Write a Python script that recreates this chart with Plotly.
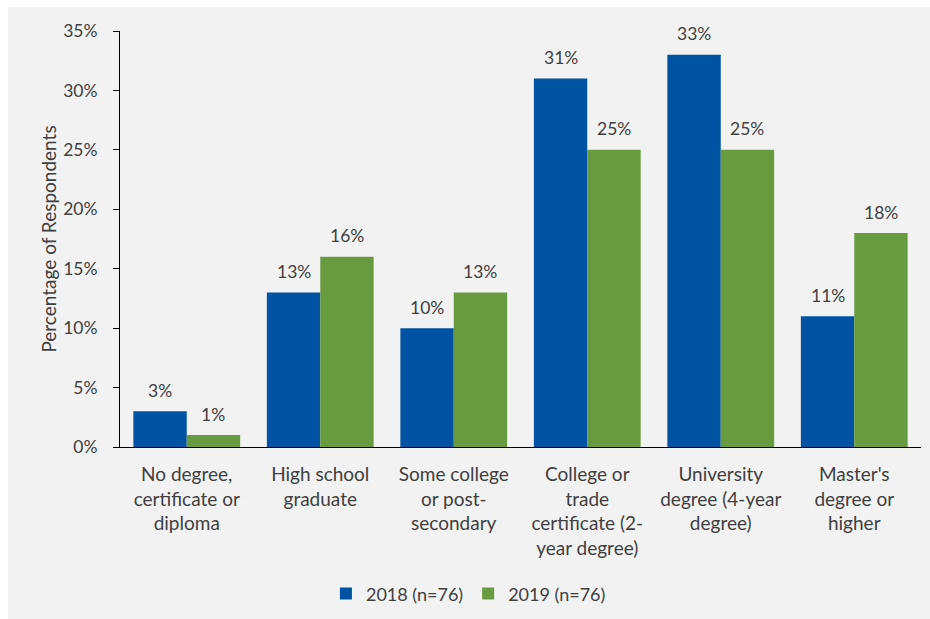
import plotly.graph_objects as go

categories = [
    "No degree,<br>certificate or<br>diploma",
    "High school<br>graduate",
    "Some college<br>or post-<br>secondary",
    "College or<br>trade<br>certificate (2-<br>year degree)",
    "University<br>degree (4-year<br>degree)",
    "Master's<br>degree or<br>higher",
]
values_2018 = [3, 13, 10, 31, 33, 11]
values_2019 = [1, 16, 13, 25, 25, 18]
series_names = ["2018 (n=76)", "2019 (n=76)"]
y_ticks = [0, 5, 10, 15, 20, 25, 30, 35]

BLUE = "#0053A2"
GREEN = "#689B40"
TEXT = "#404040"
FONT = "Lato"

# plot-area geometry used to place value labels over each bar
PLOT_W = 930 - 120 - 9
BARGAP = 0.2
bar_px = PLOT_W / len(categories) * (1 - BARGAP) / 2

fig = go.Figure()
annotations = []
for i, (name, vals, color) in enumerate([(series_names[0], values_2018, BLUE),
                                         (series_names[1], values_2019, GREEN)]):
    fig.add_trace(go.Bar(
        x=categories, y=vals, name=name,
        marker=dict(color=color, line=dict(width=0)),
    ))
    shift = (i - 0.5) * bar_px
    for cat, v in zip(categories, vals):
        annotations.append(dict(
            x=cat, y=v, xref="x", yref="y", text=f"{v}%", showarrow=False,
            xshift=shift, yshift=21, yanchor="middle",
            font=dict(family=FONT, size=17.5, color=TEXT),
        ))

fig.update_layout(
    width=930, height=619,
    barmode="group", bargap=BARGAP, bargroupgap=0,
    paper_bgcolor="white", plot_bgcolor="rgba(0,0,0,0)",
    margin=dict(l=120, r=9, t=31, b=172, autoexpand=False),
    font=dict(family=FONT, size=17, color=TEXT),
    showlegend=True,
    legend=dict(orientation="h", x=0.435, xanchor="center", y=-0.353, yanchor="middle",
                bgcolor="rgba(0,0,0,0)", borderwidth=0,
                font=dict(family=FONT, size=18, color=TEXT),
                itemwidth=30, traceorder="normal"),
    xaxis=dict(showline=True, linecolor="black", linewidth=1, ticks="",
               tickfont=dict(family=FONT, size=19, color=TEXT), tickangle=0,
               ticklabelstandoff=10),
    yaxis=dict(range=[0, 35], tickvals=y_ticks, ticktext=[f"{t}%" for t in y_ticks],
               showline=True, linecolor="black", linewidth=1, ticks="outside",
               ticklen=6, tickcolor="black", showgrid=False, zeroline=False,
               ticklabelstandoff=12,
               tickfont=dict(family=FONT, size=17.5, color=TEXT),
               title=dict(text="Percentage of Respondents",
                          font=dict(family=FONT, size=19, color=TEXT), standoff=1)),
    annotations=annotations,
    shapes=[dict(type="rect", xref="paper", yref="paper", layer="below",
                 x0=-0.1398, x1=1.02, y0=-0.42, y1=1.0577,
                 fillcolor="#F2F2F2", line=dict(width=0))],
)

fig.write_html("out.html")
